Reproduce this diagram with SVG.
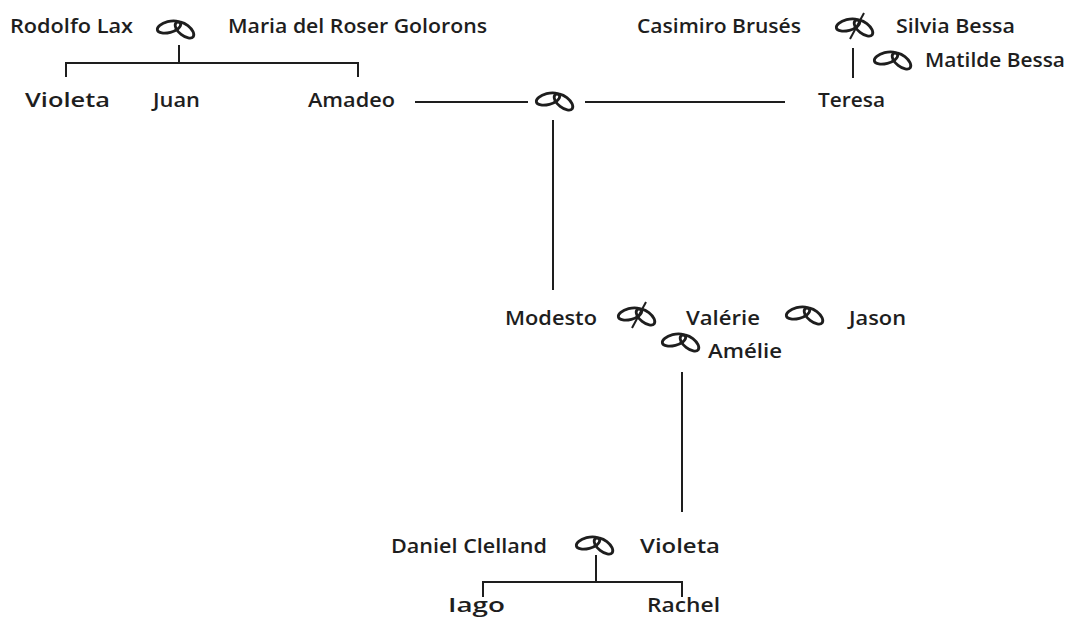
<svg xmlns="http://www.w3.org/2000/svg" xmlns:xlink="http://www.w3.org/1999/xlink" width="1076" height="626" viewBox="0 0 1076 626">
<style>
text{font-family:"Open Sans","Liberation Sans",sans-serif;font-size:20.5px;font-weight:600;fill:#1e1e1e}
.ln{stroke:#1e1e1e;stroke-width:2;fill:none}
.rg{stroke:#1e1e1e;stroke-width:2.8;fill:none}
</style>
<defs>
<g id="ring">
<ellipse class="rg" cx="-7" cy="-1" rx="12" ry="5.5" transform="rotate(-15 -7 -1)"/>
<ellipse class="rg" cx="8.5" cy="2" rx="11" ry="5.5" transform="rotate(38 8.5 2)"/>
</g>
<g id="dring">
<use xlink:href="#ring" href="#ring"/>
<line class="ln" x1="9" y1="-13" x2="-5" y2="13"/>
</g>
</defs>
<rect width="1076" height="626" fill="#fff"/>
<g id="connectors">
<path class="ln" d="M179 45V63M66 77V63H358V77"/>
<path class="ln" d="M415 102H528M585 102H785"/>
<path class="ln" d="M553 120V290"/>
<path class="ln" d="M853 48V78"/>
<path class="ln" d="M682 372V512"/>
<path class="ln" d="M596 555V582M483 597V582H682V597"/>
</g>
<g id="rings">
<use xlink:href="#ring" href="#ring" transform="translate(176 28)"/>
<use xlink:href="#ring" href="#ring" transform="translate(555 100)"/>
<use xlink:href="#dring" href="#dring" transform="translate(855 26)"/>
<use xlink:href="#ring" href="#ring" transform="translate(893 59)"/>
<use xlink:href="#dring" href="#dring" transform="translate(637 315)"/>
<use xlink:href="#ring" href="#ring" transform="translate(805 314)"/>
<use xlink:href="#ring" href="#ring" transform="translate(681 341)"/>
<use xlink:href="#ring" href="#ring" transform="translate(595 544)"/>
</g>
<g id="n-rodolfo"><text x="10" y="33" textLength="123" lengthAdjust="spacingAndGlyphs">Rodolfo Lax</text></g>
<g id="n-maria"><text x="228" y="33" textLength="259" lengthAdjust="spacingAndGlyphs">Maria del Roser Golorons</text></g>
<g id="n-violeta1"><text x="25" y="107" textLength="85" lengthAdjust="spacingAndGlyphs">Violeta</text></g>
<g id="n-juan"><text x="153" y="107" textLength="47" lengthAdjust="spacingAndGlyphs">Juan</text></g>
<g id="n-amadeo"><text x="308" y="107" textLength="87" lengthAdjust="spacingAndGlyphs">Amadeo</text></g>
<g id="n-casimiro"><text x="637" y="33" textLength="164" lengthAdjust="spacingAndGlyphs">Casimiro Brusés</text></g>
<g id="n-silvia"><text x="896" y="33" textLength="119" lengthAdjust="spacingAndGlyphs">Silvia Bessa</text></g>
<g id="n-matilde"><text x="925" y="67" textLength="140" lengthAdjust="spacingAndGlyphs">Matilde Bessa</text></g>
<g id="n-teresa"><text x="818" y="107" textLength="67" lengthAdjust="spacingAndGlyphs">Teresa</text></g>
<g id="n-modesto"><text x="505" y="325" textLength="92" lengthAdjust="spacingAndGlyphs">Modesto</text></g>
<g id="n-valerie"><text x="686" y="325" textLength="74" lengthAdjust="spacingAndGlyphs">Valérie</text></g>
<g id="n-jason"><text x="849" y="325" textLength="57" lengthAdjust="spacingAndGlyphs">Jason</text></g>
<g id="n-amelie"><text x="708" y="358" textLength="74" lengthAdjust="spacingAndGlyphs">Amélie</text></g>
<g id="n-daniel"><text x="391" y="553" textLength="156" lengthAdjust="spacingAndGlyphs">Daniel Clelland</text></g>
<g id="n-violeta2"><text x="640" y="553" textLength="80" lengthAdjust="spacingAndGlyphs">Violeta</text></g>
<g id="n-iago"><text x="448" y="612" textLength="57" lengthAdjust="spacingAndGlyphs">Iago</text></g>
<g id="n-rachel"><text x="647" y="612" textLength="73" lengthAdjust="spacingAndGlyphs">Rachel</text></g>
</svg>
